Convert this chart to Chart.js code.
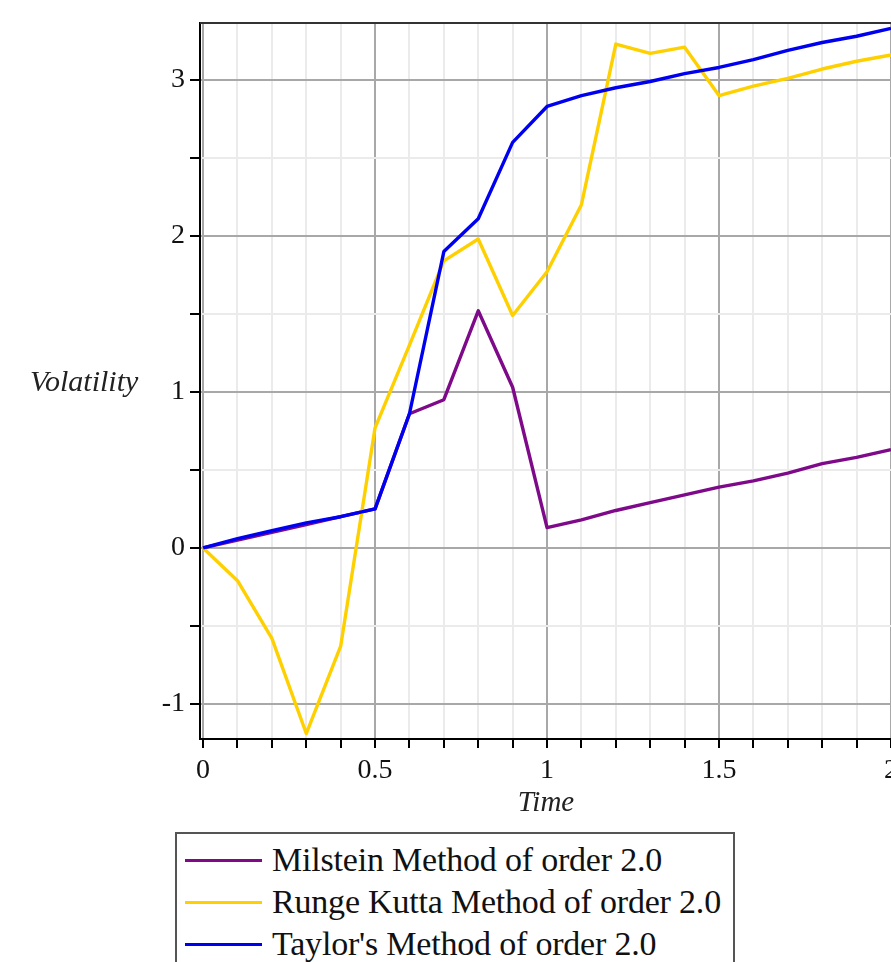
<!DOCTYPE html>
<html lang="en">
<head>
  <meta charset="UTF-8" />
  <title>Volatility vs Time</title>
  <script src="https://cdn.jsdelivr.net/npm/chart.js"></script>
  <style>
    html, body { margin: 0; padding: 0; background: #fff; overflow: hidden; width: 891px; height: 962px; }
    #wrap { position: absolute; left: 0; top: 0; width: 930px; height: 820px; }
    #ylabel { position: absolute; left: 30px; top: 364px; font: italic 30px "Liberation Serif", serif; color: #222; }
    #legend { position: absolute; left: 175px; top: 832px; width: 560px; height: 150px; border: 2px solid #555; background: #fff; padding-top: 5px; box-sizing: border-box; }
    .row { height: 42px; display: flex; align-items: center; font: 34px "Liberation Serif", serif; color: #111; white-space: nowrap; letter-spacing: -0.2px; }
    .swatch { width: 77px; height: 3px; margin: 0 10px 0 8px; }
  </style>
</head>
<body>
  <div id="wrap"><canvas id="chart"></canvas></div>
  <div id="ylabel">Volatility</div>
  <div id="legend"></div>

  <script>
    // values, one per 0.1 of time
    const times = [0, 0.1, 0.2, 0.3, 0.4, 0.5, 0.6, 0.7, 0.8, 0.9, 1.0, 1.1, 1.2, 1.3, 1.4, 1.5, 1.6, 1.7, 1.8, 1.9, 2.0];
    const milstein = [0, 0.05, 0.1, 0.15, 0.2, 0.25, 0.86, 0.95, 1.52, 1.03, 0.13, 0.18, 0.24, 0.29, 0.34, 0.39, 0.43, 0.48, 0.54, 0.58, 0.63];
    const rungeKutta = [0, -0.21, -0.58, -1.19, -0.63, 0.77, 1.3, 1.84, 1.98, 1.49, 1.77, 2.2, 3.23, 3.17, 3.21, 2.9, 2.96, 3.01, 3.07, 3.12, 3.16];
    const taylor = [0, 0.06, 0.11, 0.16, 0.2, 0.25, 0.86, 1.9, 2.11, 2.6, 2.83, 2.9, 2.95, 2.99, 3.04, 3.08, 3.13, 3.19, 3.24, 3.28, 3.33];

    const seriesNames = ['Milstein Method of order 2.0', 'Runge Kutta Method of order 2.0', "Taylor's Method of order 2.0"];
    const seriesColors = ['#7e0a8a', '#ffd000', '#0000f0'];

    const xTicks = [0, 0.1, 0.2, 0.3, 0.4, 0.5, 0.6, 0.7, 0.8, 0.9, 1, 1.1, 1.2, 1.3, 1.4, 1.5, 1.6, 1.7, 1.8, 1.9, 2];
    const xLabels = [0, 0.5, 1, 1.5, 2];
    const yTicks = [-1, -0.5, 0, 0.5, 1, 1.5, 2, 2.5, 3];
    const yLabels = [-1, 0, 1, 2, 3];

    const pts = arr => arr.map((v, i) => ({ x: times[i], y: v }));
    const isMajor = (v, list) => list.some(l => Math.abs(l - v) < 1e-9);

    const tickFont = { family: 'Liberation Serif', size: 28 };

    // thin frame on the top edge of the plot
    const topFrame = {
      id: 'topFrame',
      afterDraw(chart) {
        const { ctx, chartArea } = chart;
        ctx.save();
        ctx.strokeStyle = '#333';
        ctx.lineWidth = 2;
        ctx.beginPath();
        ctx.moveTo(chartArea.left, chartArea.top);
        ctx.lineTo(chartArea.right + 40, chartArea.top);
        ctx.stroke();
        ctx.restore();
      }
    };

    const chart = new Chart(document.getElementById('chart'), {
      type: 'line',
      data: {
        datasets: [
          { label: seriesNames[0], data: pts(milstein), borderColor: seriesColors[0], order: 2 },
          { label: seriesNames[1], data: pts(rungeKutta), borderColor: seriesColors[1], order: 1 },
          { label: seriesNames[2], data: pts(taylor), borderColor: seriesColors[2], order: 0 }
        ]
      },
      options: {
        responsive: true,
        maintainAspectRatio: false,
        animation: false,
        elements: {
          line: { borderWidth: 3.4, tension: 0, borderJoinStyle: 'round' },
          point: { radius: 0 }
        },
        layout: { padding: { top: 23, right: 38, left: 0, bottom: 0 } },
        plugins: { legend: { display: false }, tooltip: { enabled: false } },
        scales: {
          x: {
            type: 'linear',
            min: -0.009,
            max: 2.003,
            afterBuildTicks: s => { s.ticks = xTicks.map(v => ({ value: v })); },
            afterFit: s => { s.height = 81; },
            ticks: {
              autoSkip: false,
              maxRotation: 0,
              padding: 6,
              color: '#111',
              font: tickFont,
              callback: v => isMajor(v, xLabels) ? String(v) : ''
            },
            grid: {
              color: c => isMajor(c.tick.value, xLabels) ? '#a8a8a8' : '#ebebeb',
              lineWidth: 2,
              tickColor: '#000',
              tickLength: 9,
              tickWidth: 2
            },
            border: { color: '#000', width: 2 },
            title: {
              display: true,
              text: 'Time',
              color: '#222',
              font: { family: 'Liberation Serif', size: 29, style: 'italic', lineHeight: 1 },
              padding: { top: 0, bottom: 2 }
            }
          },
          y: {
            min: -1.225,
            max: 3.365,
            afterBuildTicks: s => { s.ticks = yTicks.map(v => ({ value: v })); },
            afterFit: s => { s.width = 200; },
            ticks: {
              autoSkip: false,
              padding: 5,
              color: '#111',
              font: tickFont,
              callback: v => isMajor(v, yLabels) ? String(v) : ''
            },
            grid: {
              color: c => isMajor(c.tick.value, yLabels) ? '#a8a8a8' : '#ebebeb',
              lineWidth: 2,
              tickColor: '#000',
              tickLength: 10,
              tickWidth: 2
            },
            border: { color: '#000', width: 2 }
          }
        }
      },
      plugins: [topFrame]
    });

    // legend box built from the chart's own datasets
    const legend = document.getElementById('legend');
    chart.data.datasets.forEach(ds => {
      const row = document.createElement('div');
      row.className = 'row';
      const sw = document.createElement('span');
      sw.className = 'swatch';
      sw.style.background = ds.borderColor;
      const txt = document.createElement('span');
      txt.textContent = ds.label;
      row.appendChild(sw);
      row.appendChild(txt);
      legend.appendChild(row);
    });
  </script>
</body>
</html>
